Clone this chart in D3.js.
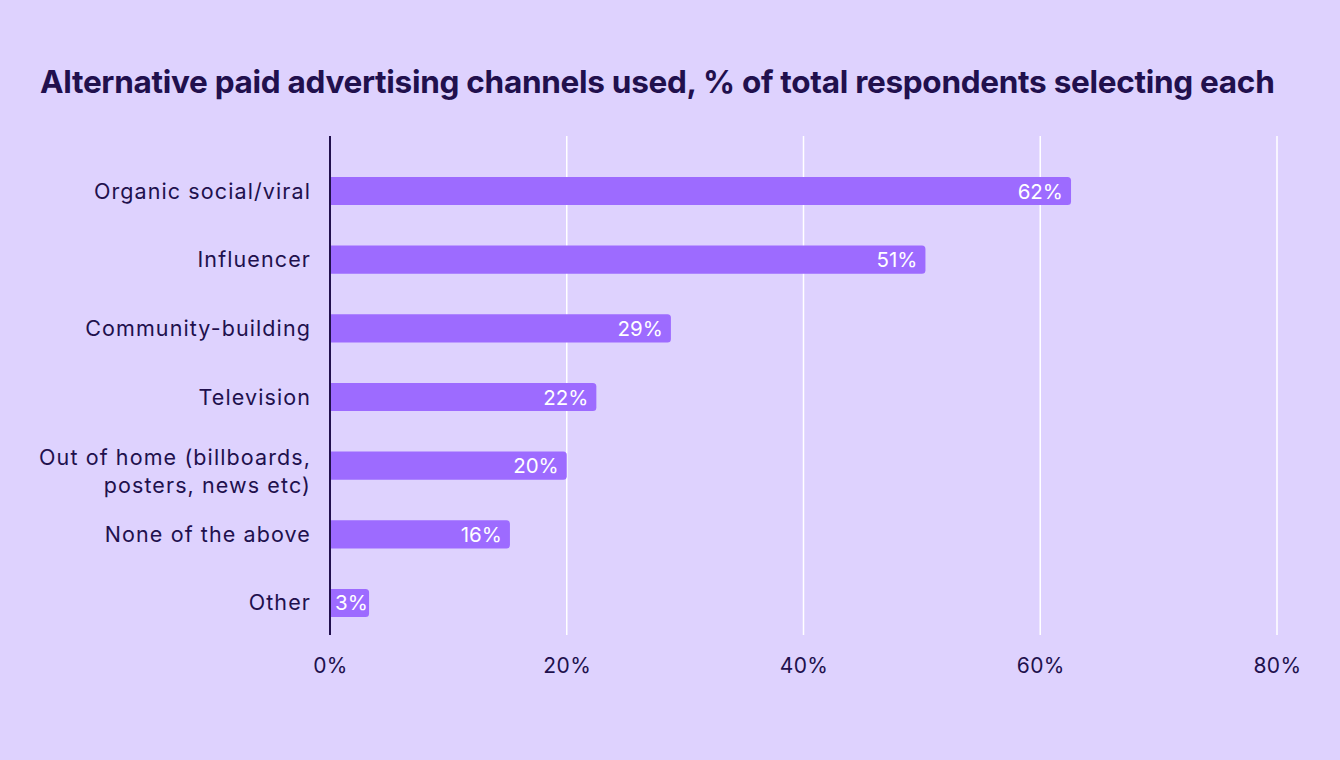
<!DOCTYPE html>
<html><head><meta charset="utf-8">
<script src="https://cdn.jsdelivr.net/npm/d3@7"></script>
<style>html,body{margin:0;padding:0;background:#ded2fe;}svg{display:block;}</style>
</head><body>
<script>
const categories = ["Organic social/viral","Influencer","Community-building","Television","Out of home (billboards,|posters, news etc)","None of the above","Other"];
const values = [62.6, 50.3, 28.8, 22.5, 20.0, 15.2, 3.3];
const valueLabels = ["62%","51%","29%","22%","20%","16%","3%"];
const xTicks = [0, 20, 40, 60, 80];
const title = "Alternative paid advertising channels used, % of total respondents selecting each";

const W = 1340, H = 760;
const bg = "#ded2fe", barColor = "#9d6bff", ink = "#21104d";
const svg = d3.select("body").append("svg").attr("width", W).attr("height", H);
svg.append("rect").attr("width", W).attr("height", H).attr("fill", bg);

const x = d3.scaleLinear().domain([0, 80]).range([330, 1277]);
const y = d3.scaleBand().domain(categories).range([156.7, 637.3]).paddingInner(0.59).paddingOuter(0.295);

const t = svg.append("text").attr("x", 40).attr("y", 93).attr("fill", ink)
  .attr("font-family", "Inter, 'Open Sans', sans-serif").attr("font-weight", 700)
  .attr("font-size", 28).attr("letter-spacing", -0.3).text(title);
const tw = t.node().getComputedTextLength();
t.attr("font-size", 28 * 1232 / tw);

// gridlines
svg.append("g").selectAll("line").data(xTicks.filter(d => d > 0)).join("line")
  .attr("x1", d => x(d)).attr("x2", d => x(d)).attr("y1", 136).attr("y2", 635)
  .attr("stroke", "#ffffff").attr("stroke-width", 1.5);

// bars
const r = 3.5;
svg.append("g").selectAll("path").data(categories).join("path")
  .attr("d", (c, i) => {
    const x0 = x(0), x1 = x(values[i]), y0 = y(c), h = y.bandwidth();
    return `M${x0},${y0}H${x1 - r}Q${x1},${y0} ${x1},${y0 + r}V${y0 + h - r}Q${x1},${y0 + h} ${x1 - r},${y0 + h}H${x0}Z`;
  })
  .attr("fill", barColor);

// value labels
svg.append("g").selectAll("text").data(categories).join("text")
  .attr("y", c => y(c) + y.bandwidth() / 2 + 7.5)
  .attr("fill", "#ffffff")
  .attr("font-family", "Inter, sans-serif").attr("font-size", 20.5)
  .text((c, i) => valueLabels[i])
  .each(function (c, i) {
    const w = this.getComputedTextLength();
    const xs = Math.max(x(values[i]) - 8 - w, x(0) + 5);
    d3.select(this).attr("x", xs);
  });

// y axis line
svg.append("line").attr("x1", 330).attr("x2", 330).attr("y1", 136).attr("y2", 635)
  .attr("stroke", ink).attr("stroke-width", 2);

// category labels
const cl = svg.append("g").selectAll("text").data(categories).join("text")
  .attr("text-anchor", "end").attr("fill", ink)
  .attr("font-family", "Inter, sans-serif").attr("font-size", 21.5).attr("letter-spacing", 1.1);
cl.each(function (c) {
  const lines = c.split("|");
  const cy = y(c) + y.bandwidth() / 2;
  const lh = 28;
  const start = lines.length > 1 ? cy - 1 : cy + 7.5;
  lines.forEach((ln, k) => {
    d3.select(this).append("tspan").attr("x", 311).attr("y", start + k * lh).text(ln);
  });
});

// x axis tick labels
const xAxis = d3.axisBottom(x).tickValues(xTicks).tickFormat(d => d + "%").tickSize(0).tickPadding(0);
const gx = svg.append("g").attr("transform", "translate(0,658)").call(xAxis);
gx.select(".domain").remove();
gx.selectAll("text").attr("fill", ink).attr("font-family", "Inter, sans-serif").attr("font-size", 21).attr("letter-spacing", 0.4).attr("dy", "0.72em");
</script>
</body></html>
